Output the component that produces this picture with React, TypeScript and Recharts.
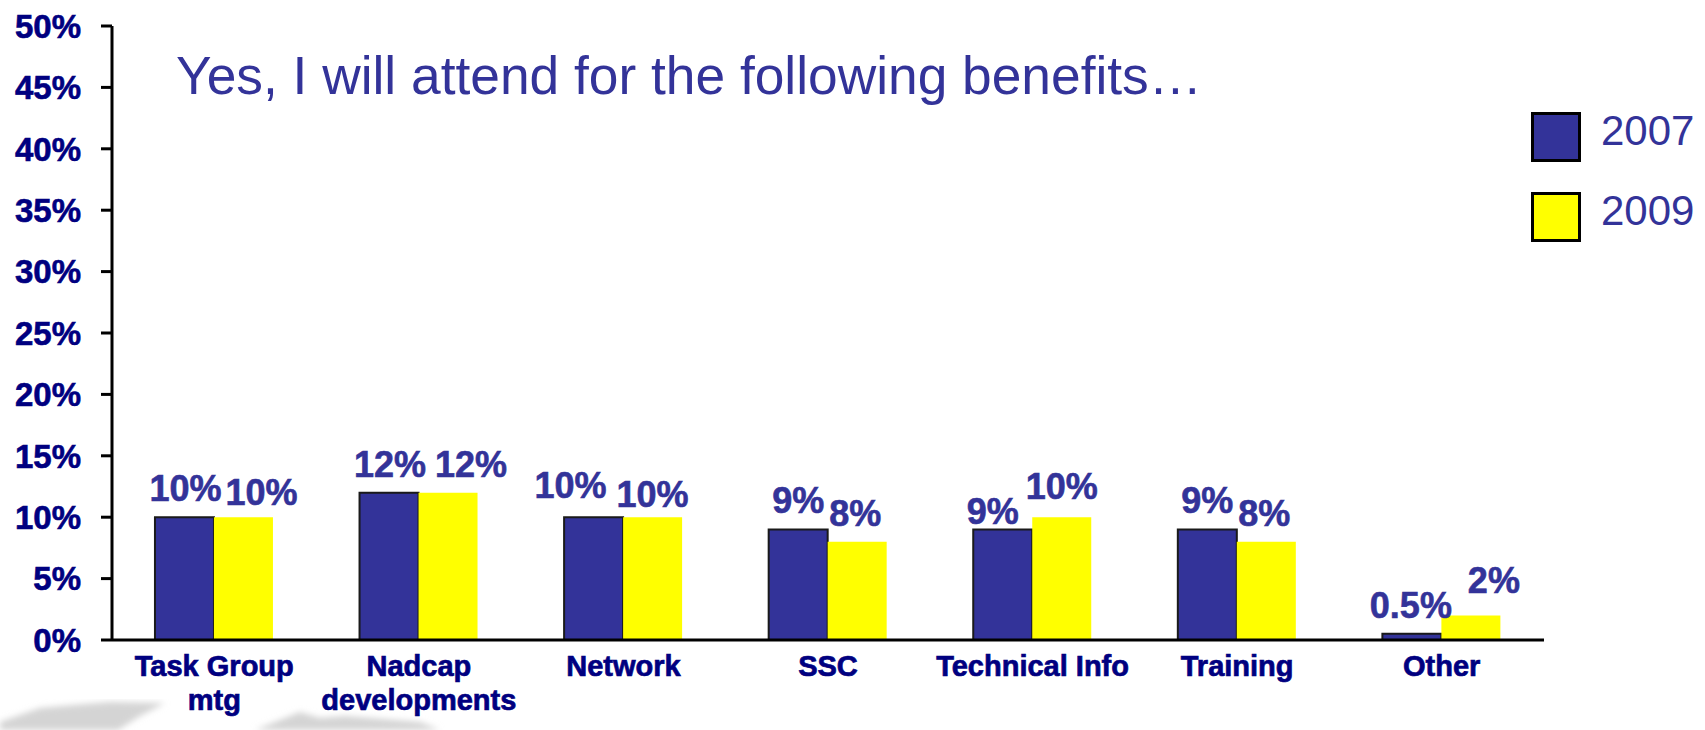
import { Bar, BarChart, LabelList, Legend, XAxis, YAxis } from "recharts";

const categories = ["Task Group mtg", "Nadcap developments", "Network", "SSC", "Technical Info", "Training", "Other"];
const tickLines = [["Task Group", "mtg"], ["Nadcap", "developments"], ["Network"], ["SSC"], ["Technical Info"], ["Training"], ["Other"]];
const values2007 = [10, 12, 10, 9, 9, 9, 0.5];
const values2009 = [10, 12, 10, 8, 10, 8, 2];
const labels2007 = ["10%", "12%", "10%", "9%", "9%", "9%", "0.5%"];
const labels2009 = ["10%", "12%", "10%", "8%", "10%", "8%", "2%"];
const yTicks = [0, 5, 10, 15, 20, 25, 30, 35, 40, 45, 50];
const edgeTicks = [0, 1, 2, 3, 4, 5, 6, 7];

// hand placed labels in the original, [dx, dy] from top centre of the bar
const nudge2007 = [[1, 0], [1, 0], [-23, -3], [0, 0], [-10, 11], [0, 0], [-1, 0]];
const nudge2009 = [[18, 4], [23, 0], [0, 6], [-2, 0], [0, -2], [-2, 0], [23, -6]];

const data = categories.map((name, i) => ({
  name,
  y2007: values2007[i],
  y2009: values2009[i],
}));

const BLUE = "#333399";
const NAVY = "#000080";

function ValueLabel({ x, y, width, index, texts, nudge }: any) {
  const [dx, dy] = nudge[index];
  return (
    <text
      x={x + width / 2 + dx}
      y={y - 16 + dy}
      textAnchor="middle"
      fontFamily="Liberation Sans"
      fontWeight="bold"
      fontSize={36}
      fill={BLUE}
      stroke={BLUE}
      strokeWidth={0.6}
    >
      {texts[index]}
    </text>
  );
}

function CategoryTick({ x, y, payload, index }: any) {
  const lines = tickLines[index] ?? [payload.value];
  return (
    <text
      x={x}
      y={y + 28}
      textAnchor="middle"
      fontFamily="Liberation Sans"
      fontWeight="bold"
      fontSize={29}
      fill={NAVY}
      stroke={NAVY}
      strokeWidth={0.7}
    >
      {lines.map((line: string, i: number) => (
        <tspan key={line} x={x} dy={i === 0 ? 0 : 34}>
          {line}
        </tspan>
      ))}
    </text>
  );
}

function LegendBox({ payload }: any) {
  return (
    <div>
      {payload.map((p: any) => (
        <div key={p.value} style={{ display: "flex", alignItems: "center", height: 50, marginBottom: 30 }}>
          <div style={{ width: 44, height: 44, background: p.color, border: "3px solid #000", marginRight: 20 }} />
          <span style={{ fontFamily: "Liberation Sans", fontSize: 42, color: BLUE, position: "relative", top: -6 }}>{p.value}</span>
        </div>
      ))}
    </div>
  );
}

// faint world map that sits behind the slide in the original
function MapBackdrop() {
  return (
    <svg width={1705} height={730} style={{ position: "absolute", left: 0, top: 0 }}>
      <defs>
        <filter id="soft">
          <feGaussianBlur stdDeviation="3" />
        </filter>
      </defs>
      <g fill="#d4d4d4" filter="url(#soft)">
        <path d="M0 722 L40 708 L85 704 L110 702 L165 703 L140 716 L118 730 L0 730 Z" />
        <path d="M255 730 L275 722 L300 712 L320 718 L345 716 L420 722 L440 730 Z" />
      </g>
    </svg>
  );
}

export default function App() {
  return (
    <div style={{ position: "absolute", left: 0, top: 0, width: 1705, height: 730, overflow: "hidden", background: "#fff" }}>
      <MapBackdrop />
      <BarChart
        width={1705}
        height={730}
        data={data}
        margin={{ top: 26, right: 161, left: 0, bottom: 0 }}
        barCategoryGap="21%"
        barGap={0}
      >
        <XAxis
          xAxisId="edges"
          type="number"
          domain={[0, 7]}
          ticks={edgeTicks}
          interval={0}
          height={0}
          tickSize={11}
          tickFormatter={() => ""}
          axisLine={false}
          tickLine={{ stroke: "#000", strokeWidth: 3 }}
        />
        <XAxis
          dataKey="name"
          height={90}
          interval={0}
          tickLine={false}
          axisLine={{ stroke: "#000", strokeWidth: 3 }}
          tick={<CategoryTick />}
        />
        <YAxis
          width={112}
          domain={[0, 50]}
          ticks={yTicks}
          interval={0}
          tickFormatter={(v) => `${v}%`}
          tickSize={11}
          tickMargin={20}
          axisLine={{ stroke: "#000", strokeWidth: 3 }}
          tickLine={{ stroke: "#000", strokeWidth: 3 }}
          tick={{ fontFamily: "Liberation Sans", fontWeight: "bold", fontSize: 33, fill: NAVY, stroke: NAVY, strokeWidth: 0.6 }}
        />
        <Legend
          layout="vertical"
          verticalAlign="middle"
          content={<LegendBox />}
          wrapperStyle={{ position: "absolute", left: 1531, top: 112, width: 170, bottom: "auto" }}
        />
        <Bar dataKey="y2007" name="2007" fill={BLUE} stroke="#1a1a1a" strokeWidth={2} isAnimationActive={false}>
          <LabelList content={<ValueLabel texts={labels2007} nudge={nudge2007} />} />
        </Bar>
        <Bar dataKey="y2009" name="2009" fill="#FFFF00" isAnimationActive={false}>
          <LabelList content={<ValueLabel texts={labels2009} nudge={nudge2009} />} />
        </Bar>
        <text x={176} y={94} fontFamily="Liberation Sans" fontSize={53.3} fill={BLUE}>
          Yes, I will attend for the following benefits…
        </text>
      </BarChart>
    </div>
  );
}
